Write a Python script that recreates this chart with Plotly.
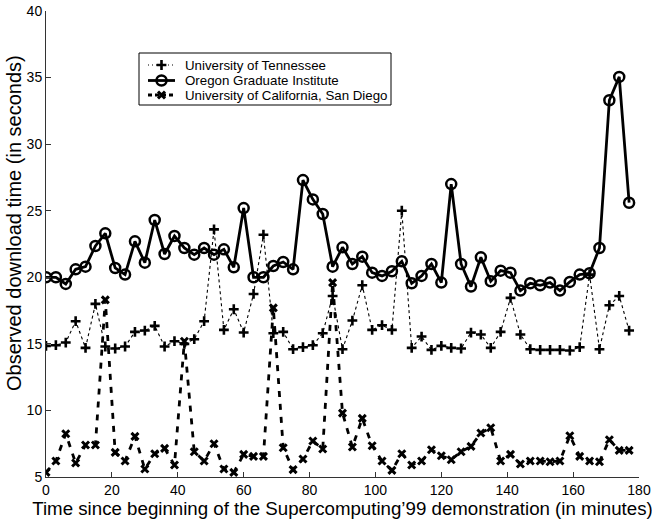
import plotly.graph_objects as go

minutes = [0, 3, 6, 9, 12, 15, 18, 21, 24, 27, 30, 33, 36, 39, 42, 45, 48, 51, 54, 57,
           60, 63, 66, 69, 72, 75, 78, 81, 84, 87, 90, 93, 96, 99, 102, 105, 108, 111, 114, 117,
           120, 123, 126, 129, 132, 135, 138, 141, 144, 147, 150, 153, 156, 159, 162, 165, 168, 171, 174, 177]

tennessee = [14.85, 14.9, 15.1, 16.7, 14.7, 18.0, 14.8, 14.65, 14.8, 15.9,
             16.0, 16.35, 14.8, 15.2, 15.0, 15.35, 16.7, 23.6, 16.05, 17.6,
             15.85, 18.75, 23.2, 15.8, 15.9, 14.6, 14.75, 14.9, 15.8, 18.6,
             14.6, 16.75, 19.4, 16.05, 16.4, 16.05, 25.0, 14.7, 15.55, 14.55,
             14.85, 14.7, 14.65, 15.85, 15.7, 14.7, 15.9, 18.45, 15.7, 14.6,
             14.55, 14.55, 14.55, 14.5, 14.75, 20.2, 14.6, 17.9, 18.6, 16.0]

oregon = [20.0, 20.0, 19.5, 20.6, 20.8, 22.35, 23.3, 20.7, 20.2, 22.7,
          21.1, 24.3, 21.75, 23.1, 22.2, 21.7, 22.2, 21.7, 22.1, 20.75,
          25.2, 20.0, 20.0, 20.85, 21.15, 20.6, 27.3, 25.85, 24.75, 20.8,
          22.25, 21.0, 21.55, 20.35, 20.1, 20.45, 21.2, 19.55, 20.1, 21.0,
          19.6, 27.0, 21.0, 19.3, 21.5, 19.7, 20.5, 20.35, 19.0, 19.55,
          19.4, 19.6, 19.0, 19.65, 20.2, 20.3, 22.2, 33.3, 35.05, 25.6]

ucsd = [5.35, 6.2, 8.25, 6.05, 7.4, 7.4, 18.3, 6.85, 6.2, 8.05,
        5.6, 6.75, 7.15, 5.9, 15.2, 6.9, 6.2, 7.5, 5.6, 5.35,
        6.7, 6.55, 6.55, 17.7, 7.2, 5.55, 6.35, 7.7, 7.1, 19.6,
        9.8, 7.25, 9.4, 7.35, 6.2, 5.5, 6.75, 5.9, 6.2, 7.05,
        6.6, 6.3, 6.9, 7.3, 8.3, 8.7, 6.2, 6.7, 5.98, 6.2,
        6.2, 6.15, 6.2, 8.1, 6.55, 6.2, 6.15, 7.8, 7.0, 7.0]

series_names = ["University of Tennessee", "Oregon Graduate Institute",
                "University of California, San Diego"]

x_ticks = [0, 20, 40, 60, 80, 100, 120, 140, 160, 180]
y_ticks = [5, 10, 15, 20, 25, 30, 35, 40]

FONT = "Liberation Sans, Arial, Helvetica, sans-serif"

styles = [
    dict(line=dict(color="black", width=1.1, dash="dot"),
         marker=dict(symbol="cross-thin", size=7, line=dict(color="black", width=2.6))),
    dict(line=dict(color="black", width=2.8),
         marker=dict(symbol="circle-open", size=10, color="black", line=dict(color="black", width=2.5))),
    dict(line=dict(color="black", width=2.8, dash="6px,7px"),
         marker=dict(symbol="x-thin", size=7, line=dict(color="black", width=3))),
]

fig = go.Figure()
for name, vals, st in zip(series_names, [tennessee, oregon, ucsd], styles):
    fig.add_trace(go.Scatter(x=minutes, y=vals, mode="lines+markers", name=name,
                             showlegend=False, **st))

# ---- hand-drawn legend (pixel-space overlay axes) ----
PL, PR, PT, PB = 46, 639, 11, 477
box = dict(x0=139, x1=391, y0=53, y1=105)
rows_y = [65, 80.5, 95]
sample_x0, sample_x1, sample_xm, text_x = 148, 175, 161.5, 183

fig.add_shape(type="rect", xref="x2", yref="y2", layer="below",
              line=dict(color="black", width=1), fillcolor="white", **box)
legend_dash = ["1px,3px", "solid", "4px,3px"]
for ry, st, nm, dsh in zip(rows_y, styles, series_names, legend_dash):
    ln = dict(st["line"])
    ln["dash"] = dsh
    fig.add_trace(go.Scatter(x=[sample_x0, sample_x1], y=[ry, ry], xaxis="x2", yaxis="y2",
                             mode="lines", line=ln, showlegend=False, hoverinfo="skip"))
    fig.add_trace(go.Scatter(x=[sample_xm], y=[ry], xaxis="x2", yaxis="y2",
                             mode="markers", marker=st["marker"], showlegend=False, hoverinfo="skip"))
    fig.add_annotation(x=text_x, y=ry, xref="x2", yref="y2", text=nm, showarrow=False,
                       xanchor="left", yanchor="middle",
                       font=dict(family=FONT, size=13.3, color="black"))

# y-axis title as annotation
fig.add_annotation(x=-0.054, y=0.545, xref="paper", yref="paper",
                   text="Observed download time (in seconds)", textangle=-90,
                   showarrow=False, xanchor="center", yanchor="middle",
                   font=dict(family=FONT, size=20, color="black"))

fig.update_layout(
    width=652, height=520, autosize=False,
    margin=dict(l=PL, r=652 - PR, t=PT, b=520 - PB),
    paper_bgcolor="white", plot_bgcolor="white",
    font=dict(family=FONT, color="black", size=14),
    showlegend=False,
    xaxis=dict(
        range=[0, 180], tickvals=x_ticks, ticktext=[str(v) for v in x_ticks],
        showgrid=False, zeroline=False, showline=True, linecolor="#333", linewidth=1,
        ticks="inside", ticklen=5, tickcolor="#333", automargin=False,
        tickfont=dict(family=FONT, size=14),
        title=dict(text="Time since beginning of the Supercomputing\u201999 demonstration (in minutes)",
                   font=dict(family=FONT, size=18.7), standoff=2),
    ),
    yaxis=dict(
        range=[5, 40], tickvals=y_ticks, ticktext=[str(v) for v in y_ticks],
        showgrid=False, zeroline=False, showline=True, linecolor="#333", linewidth=1,
        ticks="inside", ticklen=5, tickcolor="#333", automargin=False,
        tickfont=dict(family=FONT, size=14),
    ),
    xaxis2=dict(range=[PL, PR], overlaying="x", visible=False, fixedrange=True),
    yaxis2=dict(range=[PB, PT], overlaying="y", visible=False, fixedrange=True),
)

fig.write_html("out.html")
